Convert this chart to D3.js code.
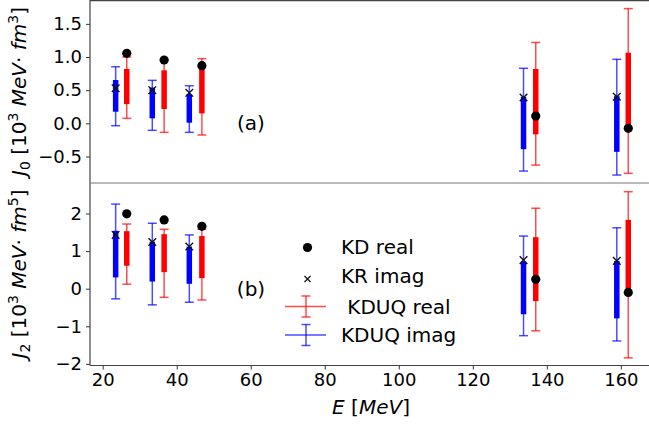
<!DOCTYPE html>
<html><head><meta charset="utf-8">
<script src="https://cdn.jsdelivr.net/npm/d3@7"></script>
<style>body{margin:0;background:#fff}svg{font-family:"DejaVu Sans",sans-serif}</style>
</head><body><svg id="c" width="649" height="424"></svg>
<script>
// ---- data ----
const energyImag = [23.5, 33.4, 43.4, 133.7, 158.9];
const energyReal = [26.5, 36.6, 46.8, 137.0, 162.0];
const xTicks = [20, 40, 60, 80, 100, 120, 140, 160];
// J0 panel (a)
const j0KDreal = [1.056, 0.955, 0.87, 0.11, -0.076];
const j0KRimag = [0.53, 0.50, 0.46, 0.39, 0.40];
const j0RealCapLo = [0.075, -0.136, -0.176, -0.63, -0.754];
const j0RealCapHi = [1.0, 0.955, 0.975, 1.22, 1.73];
const j0RealBoxLo = [0.29, 0.216, 0.15, -0.166, -0.076];
const j0RealBoxHi = [0.82, 0.80, 0.82, 0.82, 1.065];
const j0ImagCapLo = [-0.036, -0.106, -0.136, -0.72, -0.78];
const j0ImagCapHi = [0.854, 0.648, 0.567, 0.83, 0.965];
const j0ImagBoxLo = [0.175, 0.075, 0.01, -0.39, -0.43];
const j0ImagBoxHi = [0.653, 0.54, 0.44, 0.40, 0.41];
const j0Ticks = [-0.5, 0.0, 0.5, 1.0, 1.5];
// J2 panel (b)
const j2KDreal = [1.99, 1.83, 1.66, 0.25, -0.10];
const j2KRimag = [1.43, 1.24, 1.12, 0.76, 0.74];
const j2RealCapLo = [0.12, -0.23, -0.30, -1.12, -1.84];
const j2RealCapHi = [1.72, 1.58, 1.58, 2.14, 2.58];
const j2RealBoxLo = [0.61, 0.44, 0.28, -0.33, -0.10];
const j2RealBoxHi = [1.53, 1.45, 1.40, 1.37, 1.83];
const j2ImagCapLo = [-0.27, -0.43, -0.36, -1.25, -1.39];
const j2ImagCapHi = [2.25, 1.74, 1.43, 1.40, 1.62];
const j2ImagBoxLo = [0.30, 0.19, 0.13, -0.68, -0.79];
const j2ImagBoxHi = [1.54, 1.25, 1.12, 0.72, 0.74];
const j2Ticks = [-2, -1, 0, 1, 2];
const legendLabels = ["KD real", "KR imag", " KDUQ real", "KDUQ imag"];

// ---- layout ----
const svg = d3.select("#c");
const L = 90, R = 649;
const x = d3.scaleLinear().domain([16.57, 167.6]).range([L, R]);
const yA = d3.scaleLinear().domain([-0.900, 1.860]).range([183, 0]);
const yB = d3.scaleLinear().domain([-2.043, 2.811]).range([365.5, 183]);
const FS = 18, FL = 20;

function panel(y, ticks, fmt, d) {
  const g = svg.append("g");
  const items = d3.range(energyImag.length);
  const drawErr = (ex, lo, hi, blo, bhi, col) => {
    items.forEach(i => {
      const cx = x(ex[i]);
      g.append("line").attr("x1", cx).attr("x2", cx).attr("y1", y(lo[i])).attr("y2", y(hi[i]))
        .attr("stroke", col).attr("stroke-opacity", 0.7).attr("stroke-width", 1.5);
      [lo[i], hi[i]].forEach(v => g.append("line").attr("x1", cx - 4.5).attr("x2", cx + 4.5)
        .attr("y1", y(v)).attr("y2", y(v)).attr("stroke", col).attr("stroke-opacity", 0.7).attr("stroke-width", 1.5));
      g.append("line").attr("x1", cx).attr("x2", cx).attr("y1", y(blo[i])).attr("y2", y(bhi[i]))
        .attr("stroke", col).attr("stroke-width", 5.5);
    });
  };
  drawErr(energyImag, d.iLo, d.iHi, d.ibLo, d.ibHi, "#0000ff");
  items.forEach(i => {
    const cx = x(energyImag[i]), cy = y(d.kr[i]), s = 3.8;
    g.append("path").attr("d", `M${cx-s},${cy-s}L${cx+s},${cy+s}M${cx-s},${cy+s}L${cx+s},${cy-s}`)
      .attr("stroke", "#111").attr("stroke-width", 1.4).attr("fill", "none");
  });
  drawErr(energyReal, d.rLo, d.rHi, d.rbLo, d.rbHi, "#ff0000");
  items.forEach(i => {
    g.append("circle").attr("cx", x(energyReal[i])).attr("cy", y(d.kd[i])).attr("r", 4.6).attr("fill", "#000");
  });
  const ax = g.append("g").attr("transform", `translate(${L},0)`)
    .call(d3.axisLeft(y).tickValues(ticks).tickFormat(fmt).tickSize(4).tickPadding(4));
  ax.select(".domain").remove();
  ax.selectAll("text").attr("font-size", FS).attr("font-family", "DejaVu Sans").attr("fill", "#000");
  ax.selectAll("line").attr("stroke", "#333");
  return g;
}

const minusFmt = f => v => f(v).replace("-", "\u2212");
panel(yA, j0Ticks, minusFmt(d3.format(".1f")), {
  kd: j0KDreal, kr: j0KRimag, rLo: j0RealCapLo, rHi: j0RealCapHi, rbLo: j0RealBoxLo, rbHi: j0RealBoxHi,
  iLo: j0ImagCapLo, iHi: j0ImagCapHi, ibLo: j0ImagBoxLo, ibHi: j0ImagBoxHi });
panel(yB, j2Ticks, minusFmt(d3.format("d")), {
  kd: j2KDreal, kr: j2KRimag, rLo: j2RealCapLo, rHi: j2RealCapHi, rbLo: j2RealBoxLo, rbHi: j2RealBoxHi,
  iLo: j2ImagCapLo, iHi: j2ImagCapHi, ibLo: j2ImagBoxLo, ibHi: j2ImagBoxHi });

// spines
const sp = svg.append("g").attr("stroke", "#444").attr("stroke-width", 1.2);
sp.append("line").attr("x1", L).attr("x2", L).attr("y1", 0).attr("y2", 365.5);
sp.append("line").attr("x1", L).attr("x2", R).attr("y1", 0.6).attr("y2", 0.6);
sp.append("line").attr("x1", L).attr("x2", R).attr("y1", 183).attr("y2", 183).attr("stroke", "#777");
sp.append("line").attr("x1", L).attr("x2", R).attr("y1", 365.5).attr("y2", 365.5);

// x axis
const xa = svg.append("g").attr("transform", "translate(0,365.5)")
  .call(d3.axisBottom(x).tickValues(xTicks).tickSize(4).tickPadding(4));
xa.select(".domain").remove();
xa.selectAll("text").attr("font-size", FS).attr("font-family", "DejaVu Sans").attr("fill", "#000");
xa.selectAll("line").attr("stroke", "#333");

// axis labels (mathtext style)
const xl = svg.append("text").attr("x", 371).attr("y", 414).attr("text-anchor", "middle").attr("font-size", FL);
xl.append("tspan").attr("font-style", "italic").text("E");
xl.append("tspan").text(" [");
xl.append("tspan").attr("font-style", "italic").text("MeV");
xl.append("tspan").text("]");

function ylab(cy, sub, sup) {
  const t = svg.append("text").attr("transform", `translate(26,${cy}) rotate(-90)`)
    .attr("text-anchor", "middle").attr("font-size", FL);
  t.append("tspan").attr("font-style", "italic").text("J");
  t.append("tspan").attr("font-size", 14).attr("dy", 4).text(sub);
  t.append("tspan").attr("dy", -4).text(" [10");
  t.append("tspan").attr("font-size", 14).attr("dy", -8).text("3");
  t.append("tspan").attr("dy", 8).text(" ");
  t.append("tspan").attr("font-style", "italic").text("MeV");
  t.append("tspan").text("\u00b7 ");
  t.append("tspan").attr("font-style", "italic").text("fm");
  t.append("tspan").attr("font-size", 14).attr("dy", -8).text(sup);
  t.append("tspan").attr("dy", 8).text("]");
}
ylab(91.5, "0", "3");
ylab(274, "2", "5");

// panel tags
svg.append("text").attr("x", 251).attr("y", 130).attr("text-anchor", "middle").attr("font-size", FL).text("(a)");
svg.append("text").attr("x", 251).attr("y", 296).attr("text-anchor", "middle").attr("font-size", FL).text("(b)");

// legend
const lg = svg.append("g");
const rows = [246.5, 276, 306.5, 335];
const lx = 306;
lg.append("circle").attr("cx", lx + 1.5).attr("cy", rows[0] + 1).attr("r", 4.6).attr("fill", "#000");
{ const s = 3, cy = rows[1] + 3, cx = lx + 1.5;
  lg.append("path").attr("d", `M${cx-s},${cy-s}L${cx+s},${cy+s}M${cx-s},${cy+s}L${cx+s},${cy-s}`)
    .attr("stroke", "#111").attr("stroke-width", 1.2); }
[["#ff0000", rows[2]], ["#0000ff", rows[3]]].forEach(([c, cy]) => {
  const gg = lg.append("g").attr("stroke", c).attr("stroke-opacity", 0.7).attr("stroke-width", 1.5);
  gg.append("line").attr("x1", lx - 21).attr("x2", lx + 20).attr("y1", cy).attr("y2", cy);
  gg.append("line").attr("x1", lx).attr("x2", lx).attr("y1", cy - 10.5).attr("y2", cy + 10.5);
  gg.append("line").attr("x1", lx - 4.5).attr("x2", lx + 4.5).attr("y1", cy - 10.5).attr("y2", cy - 10.5);
  gg.append("line").attr("x1", lx - 4.5).attr("x2", lx + 4.5).attr("y1", cy + 10.5).attr("y2", cy + 10.5);
});
legendLabels.forEach((t, i) => {
  lg.append("text").attr("x", 341).attr("y", rows[i] + 7).attr("font-size", FL)
    .attr("xml:space", "preserve").style("white-space", "pre").text(t);
});
</script></body></html>
